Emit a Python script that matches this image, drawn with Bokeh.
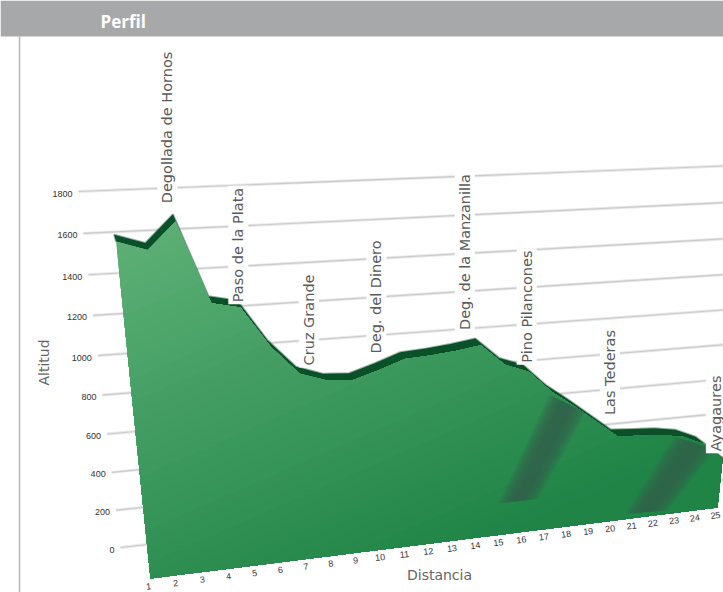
import numpy as np
from bokeh.embed import file_html
from bokeh.resources import INLINE
from bokeh.plotting import figure, ColumnDataSource
from bokeh.core.properties import value

# ---------- data ----------
distancia = list(range(1, 26))
altitud = [1575, 1530, 1640, 1280, 1250, 1060, 925, 880, 870, 905, 945, 950, 960, 975,
           870, 825, 715, 630, 540, 450, 440, 430, 410, 360, 270]
altitud_ticks = [0, 200, 400, 600, 800, 1000, 1200, 1400, 1600, 1800]
puertos = ["Degollada de Hornos", "Paso de la Plata", "Cruz Grande", "Deg. del Dinero",
           "Deg. de la Manzanilla", "Pino Pilancones", "Las Tederas", "Ayagaures"]
puerto_dist = [2.78, 4.93, 7.35, 9.9, 13.35, 15.9, 19.6, 24.65]
puerto_alt = [1708, 1265, 950, 975, 1045, 860, 555, 300]
sombra_dist = [[16.9, 18.5, 16.6, 14.9], [22.6, 24.6, 22.6, 20.6]]
sombra_alt = [[700, 590, 170, 170], [415, 320, 20, 30]]

W, H = 723, 592

# ---------- projection ----------
def homography(src, dst):
    A, b = [], []
    for (u, v), (x, y) in zip(src, dst):
        A.append([u, v, 1, 0, 0, 0, -u*x, -v*x]); b.append(x)
        A.append([0, 0, 0, u, v, 1, -u*y, -v*y]); b.append(y)
    h = np.linalg.solve(np.array(A, float), np.array(b, float))
    return np.append(h, 1).reshape(3, 3)

def project(M, u, v):
    u, v = np.asarray(u, float), np.asarray(v, float)
    n = (u - 1) / 24
    u = 1 + 24 * n * 1.06 / (1 + 0.06 * n)
    w = M[2, 0]*u + M[2, 1]*v + M[2, 2]
    return (M[0, 0]*u + M[0, 1]*v + M[0, 2]) / w, (M[1, 0]*u + M[1, 1]*v + M[1, 2]) / w

corners = [(1, 0), (25, 0), (1, 1800), (25, 1800)]
front = homography(corners, [(150, 578), (717, 507), (110, 186), (755, 141)])
back = homography(corners, [(148, 571), (709, 500), (108, 179), (747, 134)])
wall = homography(corners, [(120, 547), (735, 478), (78, 191), (735, 165)])

p = figure(width=W, height=H, x_range=(0, W), y_range=(H, 0), toolbar_location=None,
           output_backend="svg", min_border=0, outline_line_color=None, background_fill_color="white")
p.axis.visible = False
p.grid.visible = False

# header and frame
p.quad(left=[0], right=[W], top=[0], bottom=[36], fill_color="#A7A8AA", line_color=None)
p.segment(x0=[19], y0=[36], x1=[19], y1=[H], line_color="#B4B5B7", line_width=1.5)
p.text(x=[100], y=[21], text=["Perfil"], text_color="white", text_font=value("Open Sans"),
       text_font_style="bold", text_font_size="17px", text_baseline="middle")

# grid (back wall)
t = np.array(altitud_ticks, float)
wu0, wu1 = np.ones_like(t), np.full_like(t, 25)
gx0, gy0 = project(wall, wu0, t)
gx1, gy1 = project(wall, wu1, t)
p.segment(gx0, gy0, gx1, gy1, line_color="#D8D9DA", line_width=3, line_alpha=0.6)
p.segment(gx0, gy0, gx1, gy1, line_color="#CBCCCD", line_width=1.2)
p.text(gx0 - 6, gy0 + 2, text=[str(v) for v in altitud_ticks], text_font=value("Liberation Sans"),
       text_font_size="9px", text_color="#333333", text_align="right", text_baseline="middle")

# surface
d = np.array(distancia, float)
a = np.array(altitud, float)
sx, sy = project(front, d, a)
bx, by = project(front, d, np.zeros_like(d))
px = np.concatenate([sx, bx[::-1]])
py = np.concatenate([sy, by[::-1]])

# extruded ribbon behind the front face
rx, ry = project(back, d, a)
ex = np.concatenate([rx, sx[::-1]])
ey = np.concatenate([ry, sy[::-1]])
p.patch(ex, ey, fill_color="#0A5028", line_color="#0A5028", line_width=2, line_alpha=0.45)

def clip(xs, ys, dirx, diry, lim):
    ox, oy = [], []
    n = len(xs)
    for i in range(n):
        x0, y0, x1, y1 = xs[i], ys[i], xs[(i+1) % n], ys[(i+1) % n]
        s0, s1 = x0*dirx + y0*diry - lim, x1*dirx + y1*diry - lim
        if s0 >= 0:
            ox.append(x0); oy.append(y0)
        if (s0 >= 0) != (s1 >= 0):
            f = s0 / (s0 - s1)
            ox.append(x0 + f*(x1-x0)); oy.append(y0 + f*(y1-y0))
    return ox, oy

c0 = np.array([0x5C, 0xB0, 0x76], float)
c1 = np.array([0x20, 0x84, 0x47], float)
dirx, diry = 0.4, 0.917
s = px*dirx + py*diry
steps = 48
for k in range(steps):
    f = k / (steps - 1)
    lim = s.min() + f*(s.max() - s.min()) - 1
    cx, cy = clip(list(px), list(py), dirx, diry, lim)
    if len(cx) < 3:
        continue
    g = min(1.0, f*1.15)
    col = c0 + (c1 - c0)*g
    p.patch(cx, cy, fill_color="#%02x%02x%02x" % tuple(int(v) for v in col), line_color=None)

# dark smudges: layered so that they fade towards their edges
for sd, sa in zip(sombra_dist, sombra_alt):
    qx, qy = project(front, np.array(sd, float), np.array(sa, float))
    for shrink in [1.0, 0.88, 0.76, 0.64, 0.52, 0.4, 0.28]:
        ox = np.array([qx[0]+(qx[1]-qx[0])*(1-shrink)/2, qx[1]-(qx[1]-qx[0])*(1-shrink)/2,
                       qx[2]-(qx[2]-qx[3])*(1-shrink)/2, qx[3]+(qx[2]-qx[3])*(1-shrink)/2])
        oy = np.array([qy[0]+(qy[1]-qy[0])*(1-shrink)/2, qy[1]-(qy[1]-qy[0])*(1-shrink)/2,
                       qy[2]-(qy[2]-qy[3])*(1-shrink)/2, qy[3]+(qy[2]-qy[3])*(1-shrink)/2])
        p.patch(ox, oy, fill_color="#33604A", fill_alpha=0.24, line_color=None)

# axis numbers along the base
slope = np.arctan2(by[0]-by[-1], bx[-1]-bx[0])
p.text(bx - 2, by + 8, text=[str(v) for v in distancia], text_font=value("Liberation Sans"),
       text_font_size="9px", text_color="#333333", text_align="center", text_baseline="middle",
       angle=float(slope))

# pass names
lx, ly = project(front, np.array(puerto_dist, float), np.array(puerto_alt, float))
src = ColumnDataSource(dict(x=lx, y=ly, t=puertos))
p.text("x", "y", text="t", source=src, angle=np.pi/2, text_align="left", text_baseline="middle",
       text_font=value("DejaVu Sans"), text_font_size="14.5px", text_color="#5A5A5A",
       background_fill_color="white", padding=2)

# axis titles
p.text([43], [362], text=["Altitud"], angle=np.pi/2, text_align="center", text_baseline="middle",
       text_font=value("DejaVu Sans"), text_font_size="14px", text_color="#666666")
p.text([439], [574], text=["Distancia"], text_align="center", text_baseline="middle",
       text_font=value("DejaVu Sans"), text_font_size="14px", text_color="#666666")

open("out.html", "w").write(file_html(p, INLINE))
